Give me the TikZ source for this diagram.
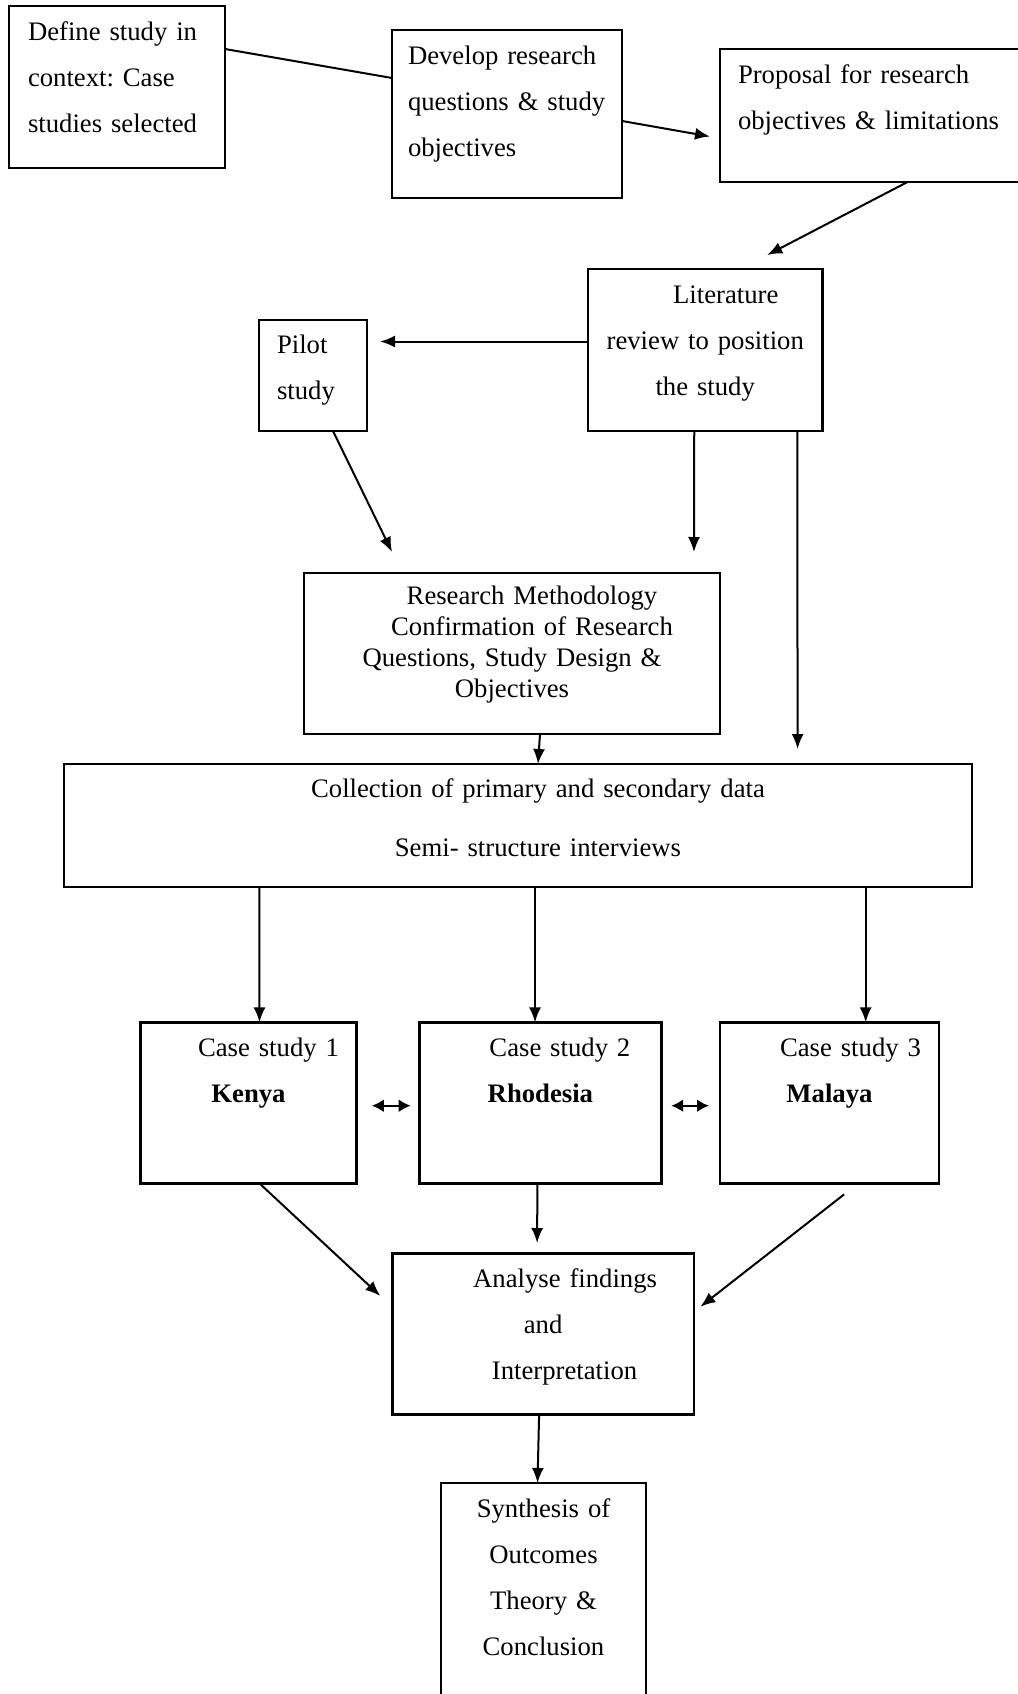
\documentclass[tikz,border=0pt]{standalone}
\usepackage{fontspec}
\setmainfont{Liberation Serif}
\usetikzlibrary{arrows.meta}
\frenchspacing
\tikzset{% This is the style settings for boxes and arrows
    box/.style={draw=black, line width=2.8pt, outer sep=0pt, inner ysep=0pt, anchor=north west,
      font=\fontsize{26.7pt}{46pt}\selectfont},
    lbox/.style={box, align=left, inner xsep=#1},
    cbox/.style={box, align=center, inner xsep=0pt},
    e/.style={-{Latex[length=15pt,width=12pt]}, line width=2pt},
    ee/.style={{Latex[length=12pt,width=13pt]}-{Latex[length=12pt,width=13pt]}, line width=2.4pt}}

\begin{document}
\begin{tikzpicture}[x=1pt,y=-1pt]
  \useasboundingbox (0,0) rectangle (1017,1694);

  \node[lbox=19pt, text width=178pt, text height=35pt, text depth=127pt] (define) at (9,6)
    {Define study in\\context: Case\\studies selected};
  \node[lbox=16pt, text width=198pt, text height=35pt, text depth=133pt] (develop) at (392,30)
    {Develop research\\questions \& study\\objectives};
  \node[lbox=18pt, text width=269pt, text height=34pt, text depth=99pt] (proposal) at (720,49)
    {Proposal for research\\objectives \& limitations};
  \node[cbox, text width=234.5pt, text height=34pt, text depth=128pt] (literature) at (588,269)
    {\hspace*{41pt}Literature\\review to position\\the study};
  \node[lbox=18pt, text width=72pt, text height=33pt, text depth=78pt] (pilot) at (259,320)
    {Pilot\\study};
  \node[cbox, text width=416pt, text height=31.5pt, text depth=129.5pt,
    font=\fontsize{26.7pt}{31pt}\selectfont] (method) at (304,573)
    {\hspace*{40pt}Research Methodology\\\hspace*{40pt}Confirmation of Research\\Questions, Study Design \&\\Objectives};
  \node[cbox, text width=908pt, text height=33pt, text depth=90pt,
    font=\fontsize{26.7pt}{59pt}\selectfont] (collect) at (64,764)
    {\hspace*{40pt}Collection of primary and secondary data\\\hspace*{40pt}Semi- structure interviews};
  \node[cbox, text width=216pt, text height=34pt, text depth=127pt] (kenya) at (140.5,1022.4)
    {\hspace*{40pt}Case study 1\\\textbf{Kenya}};
  \node[cbox, text width=242pt, text height=34pt, text depth=127pt] (rhodesia) at (419.4,1022.4)
    {\hspace*{39pt}Case study 2\\\textbf{Rhodesia}};
  \node[cbox, text width=219pt, text height=34pt, text depth=127pt] (malaya) at (720,1022.4)
    {\hspace*{42pt}Case study 3\\\textbf{Malaya}};
  \node[cbox, text width=301.6pt, text height=34pt, text depth=127pt] (analyse) at (392.3,1253.7)
    {\hspace*{44pt}Analyse findings\\and\\\hspace*{43pt}Interpretation};
  \node[cbox, text width=205pt, text height=34pt, text depth=190pt] (synthesis) at (441,1483)
    {Synthesis of\\Outcomes\\Theory \&\\Conclusion};

  \draw[line width=2pt] ([yshift=38pt]define.east) -- ([yshift=36pt]develop.west);
  \draw[e] ([yshift=-7pt]develop.east) -- ([xshift=-10pt,yshift=-21pt]proposal.west);
  \draw[e] ([xshift=35pt]proposal.south) -- ([xshift=62pt,yshift=14pt]literature.north);
  \draw[e] ([yshift=8.5pt]literature.west) -- ([xshift=13pt,yshift=34pt]pilot.east);
  \draw[e] ([xshift=20pt]pilot.south) -- ([xshift=-120pt,yshift=21pt]method.north);
  \draw[e] ([xshift=-11pt]literature.south) -- ([xshift=182pt,yshift=21pt]method.north);
  \draw[e] ([xshift=92pt]literature.south) -- ([xshift=279.6pt,yshift=15pt]collect.north);
  \draw[e] ([xshift=28pt]method.south) -- ([xshift=20pt]collect.north);
  \draw[e] ([xshift=-258.6pt]collect.south) -- ([xshift=11pt]kenya.north);
  \draw[e] ([xshift=17pt]collect.south) -- ([xshift=-5.4pt]rhodesia.north);
  \draw[e] ([xshift=347.7pt]collect.south) -- ([xshift=36.2pt]malaya.north);
  \draw[ee] ([xshift=15.3pt,yshift=-2.8pt]kenya.east) -- ([xshift=-8.7pt,yshift=-2.8pt]rhodesia.west);
  \draw[ee] ([xshift=9.8pt,yshift=-2.8pt]rhodesia.east) -- ([xshift=-11pt,yshift=-2.8pt]malaya.west);
  \draw[e] ([xshift=11pt]kenya.south) -- ([xshift=-12pt,yshift=38.3pt]analyse.west);
  \draw[e] ([xshift=-3pt]rhodesia.south) -- ([xshift=-6pt,yshift=10.7pt]analyse.north);
  \draw[e] ([xshift=14.6pt,yshift=-11pt]malaya.south) -- ([xshift=6.5pt,yshift=27.5pt]analyse.east);
  \draw[e] ([xshift=-4pt]analyse.south) -- ([xshift=-6pt]synthesis.north);
\end{tikzpicture}
\end{document}
